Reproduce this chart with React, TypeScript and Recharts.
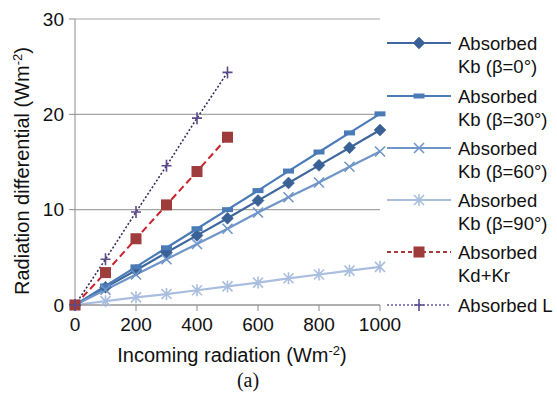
import React from 'react';
import { LineChart, Line, XAxis, YAxis, CartesianGrid, Legend } from 'recharts';

const xValues = [0, 100, 200, 300, 400, 500, 600, 700, 800, 900, 1000];
const kb0 = [0, 1.85, 3.65, 5.5, 7.3, 9.1, 10.95, 12.8, 14.65, 16.5, 18.35];
const kb30 = [0, 2.0, 4.0, 6.0, 8.0, 10.0, 12.0, 14.05, 16.05, 18.05, 20.05];
const kb60 = [0, 1.6, 3.2, 4.8, 6.4, 8.0, 9.7, 11.3, 12.85, 14.5, 16.1];
const kb90 = [0, 0.4, 0.8, 1.15, 1.55, 1.95, 2.35, 2.8, 3.2, 3.6, 4.0];
const kdkr = [0, 3.4, 6.95, 10.5, 14.0, 17.6];
const absL = [0, 4.8, 9.75, 14.6, 19.6, 24.4];
const xTicks = [0, 200, 400, 600, 800, 1000];
const yTicks = [0, 10, 20, 30];

const data = xValues.map((x, i) => ({
  x,
  kb0: kb0[i],
  kb30: kb30[i],
  kb60: kb60[i],
  kb90: kb90[i],
  kdkr: kdkr[i],
  absL: absL[i],
}));

const FONT = '"Liberation Sans", Arial, Helvetica, sans-serif';

type MarkerKind = 'diamond' | 'dash' | 'x' | 'star' | 'square' | 'plus';

const drawMarker = (kind: MarkerKind, cx: number, cy: number, color: string, key?: any) => {
  switch (kind) {
    case 'diamond':
      return <path key={key} d={`M${cx},${cy - 6}L${cx + 6},${cy}L${cx},${cy + 6}L${cx - 6},${cy}Z`} fill={color} stroke={color} strokeWidth={0.5} />;
    case 'dash':
      return <rect key={key} x={cx - 5.5} y={cy - 2.5} width={11} height={5} fill={color} />;
    case 'x':
      return <path key={key} d={`M${cx - 5},${cy - 5}L${cx + 5},${cy + 5}M${cx - 5},${cy + 5}L${cx + 5},${cy - 5}`} stroke={color} strokeWidth={1.6} fill="none" />;
    case 'star':
      return <path key={key} d={`M${cx - 5},${cy - 5}L${cx + 5},${cy + 5}M${cx - 5},${cy + 5}L${cx + 5},${cy - 5}M${cx},${cy - 6}L${cx},${cy + 6}`} stroke={color} strokeWidth={1.6} fill="none" />;
    case 'square':
      return <rect key={key} x={cx - 5.5} y={cy - 5.5} width={11} height={11} fill={color} />;
    case 'plus':
      return <path key={key} d={`M${cx - 5},${cy}L${cx + 5},${cy}M${cx},${cy - 6}L${cx},${cy + 6}`} stroke={color} strokeWidth={1.6} fill="none" />;
  }
  return null;
};

const series = [
  { key: 'kb0', l1: 'Absorbed', l2: 'Kb (β=0°)', color: '#3e679d', marker: '#3a6196', kind: 'diamond' as MarkerKind, dash: undefined as string | undefined, width: 2.2 },
  { key: 'kb30', l1: 'Absorbed', l2: 'Kb (β=30°)', color: '#4a7bb7', marker: '#4a7bb7', kind: 'dash' as MarkerKind, dash: undefined, width: 2.2 },
  { key: 'kb60', l1: 'Absorbed', l2: 'Kb (β=60°)', color: '#7095c8', marker: '#7095c8', kind: 'x' as MarkerKind, dash: undefined, width: 2.2 },
  { key: 'kb90', l1: 'Absorbed', l2: 'Kb (β=90°)', color: '#a9bedf', marker: '#a9bedf', kind: 'star' as MarkerKind, dash: undefined, width: 2.2 },
  { key: 'kdkr', l1: 'Absorbed', l2: 'Kd+Kr', color: '#c8232a', marker: '#9e3b3b', kind: 'square' as MarkerKind, dash: '7 4', width: 2 },
  { key: 'absL', l1: 'Absorbed L', l2: '', color: '#3a2d5c', marker: '#5c4a8c', kind: 'plus' as MarkerKind, dash: '2 2', width: 1.6 },
];

const legendRows = [43, 96, 148, 200, 252, 305];

const renderLegend = () => (
  <svg width={170} height={330} style={{ display: 'block' }}>
    {series.map((s, i) => {
      const y = legendRows[i];
      const legendColor = s.key === 'kdkr' ? '#a83a3a' : s.key === 'absL' ? '#6a58a0' : s.color;
      const legendDash = s.key === 'kdkr' ? '4 3' : s.dash;
      return (
        <g key={s.key}>
          <line x1={0} x2={64} y1={y} y2={y} stroke={legendColor} strokeWidth={s.key === 'absL' ? 1.6 : 2.2} strokeDasharray={legendDash} />
          {drawMarker(s.kind, 32, y, s.marker)}
          <text x={71} y={y + 7} fontSize={18.5} fontFamily={FONT} fill="#111">{s.l1}</text>
          {s.l2 ? <text x={71} y={y + 30} fontSize={18.5} fontFamily={FONT} fill="#111">{s.l2}</text> : null}
        </g>
      );
    })}
  </svg>
);

const makeDot = (kind: MarkerKind, color: string) => (props: any) => {
  const { cx, cy, index, payload, value } = props;
  if (cx == null || cy == null || value == null) return <g key={`e-${index}`} />;
  return drawMarker(kind, cx, cy, color, `${kind}-${index}-${payload?.x}`);
};

const YLabel = () => (
  <text transform="translate(29,171) rotate(-90)" textAnchor="middle" fontSize={20} fontFamily={FONT} fill="#111">
    Radiation differential (Wm<tspan baselineShift="super" fontSize={13}>-2</tspan>)
  </text>
);

const XLabel = () => (
  <g>
    <text x={232} y={362} textAnchor="middle" fontSize={20} fontFamily={FONT} fill="#111">
      Incoming radiation (Wm<tspan baselineShift="super" fontSize={13}>-2</tspan>)
    </text>
    <text x={248} y={387} textAnchor="middle" fontSize={20} fontFamily='"Liberation Serif", "Times New Roman", serif' fill="#111">(a)</text>
  </g>
);

export default function App() {
  return (
    <div style={{ position: 'absolute', left: 0, top: 0, width: 557, height: 393, background: '#fff' }}>
      <LineChart width={557} height={393} data={data} margin={{ top: 19, right: 177, bottom: 40, left: 0 }}>
        <CartesianGrid horizontal vertical={false} stroke="#a5a5a5" strokeWidth={1.2} />
        <XAxis
          dataKey="x"
          type="number"
          domain={[0, 1000]}
          ticks={xTicks}
          height={48}
          stroke="#8c8c8c"
          tickSize={6}
          tickMargin={7}
          tick={{ fill: '#111', fontSize: 19, fontFamily: FONT }}
          label={<XLabel />}
        />
        <YAxis
          type="number"
          domain={[0, 30]}
          ticks={yTicks}
          width={75}
          stroke="#8c8c8c"
          tickSize={6}
          tickMargin={5}
          tick={{ fill: '#111', fontSize: 19, fontFamily: FONT }}
          label={<YLabel />}
        />
        <Legend
          layout="vertical"
          align="center"
          verticalAlign="middle"
          content={renderLegend}
          wrapperStyle={{ left: 387, top: 0, width: 170 }}
        />
        {series.map((s) => (
          <Line
            key={s.key}
            dataKey={s.key}
            stroke={s.color}
            strokeWidth={s.width}
            strokeDasharray={s.dash}
            dot={makeDot(s.kind, s.marker)}
            activeDot={false}
            isAnimationActive={false}
            connectNulls={false}
            legendType="none"
          />
        ))}
      </LineChart>
    </div>
  );
}
